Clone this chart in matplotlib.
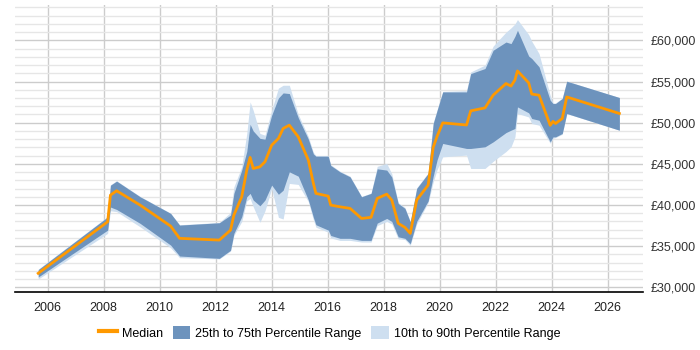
import matplotlib
matplotlib.use("Agg")
import matplotlib.pyplot as plt
from matplotlib.lines import Line2D
from matplotlib.patches import Patch
from matplotlib.ticker import FuncFormatter, MultipleLocator

plt.rcParams["font.family"] = ["Liberation Sans", "DejaVu Sans"]

years = [
    2005.66, 2008.14, 2008.24, 2008.46, 2009.30, 2010.39, 2010.71, 2012.13,
    2012.53, 2012.65, 2012.93, 2013.11, 2013.23, 2013.34, 2013.58, 2013.76,
    2014.00, 2014.24, 2014.41, 2014.63, 2014.95, 2015.31, 2015.49, 2015.58,
    2016.02, 2016.11, 2016.44, 2016.80, 2017.21, 2017.55, 2017.77, 2018.11,
    2018.29, 2018.52, 2018.76, 2018.95, 2019.18, 2019.59, 2019.77, 2019.91,
    2020.11, 2020.96, 2021.11, 2021.62, 2021.91, 2022.37, 2022.55, 2022.69,
    2022.78, 2023.18, 2023.29, 2023.55, 2023.95, 2024.05, 2024.14, 2024.38,
    2024.54, 2026.42,
]
median = [
    31700, 37960, 41200, 41730, 39990, 37440, 35950, 35740,
    36950, 38770, 41000, 44240, 45780, 44440, 44640, 45250,
    47270, 48080, 49300, 49700, 48280, 45450, 42620, 41410,
    41080, 39990, 39780, 39590, 38370, 38500, 40800, 41320,
    40600, 37770, 37280, 36550, 40600, 42420, 47000, 48360,
    49980, 49720, 51440, 51800, 53340, 54760, 54450, 55200,
    56290, 54850, 53480, 53340, 49680, 50160, 49900, 50510,
    53130, 51120,
]
p25 = [
    31250, 36950, 39750, 39460, 37770, 35130, 33800, 33520,
    34500, 36550, 38570, 41000, 41410, 40600, 39900, 40600,
    42420, 41300, 41800, 44030, 43500, 40600, 38500, 37600,
    36950, 36300, 35950, 35950, 35700, 35700, 37800, 38370,
    38000, 36140, 35950, 35300, 38000, 40500, 43500, 45500,
    47480, 46870, 46870, 47070, 47670, 48800, 49090, 49300,
    51920, 51200, 50510, 50300, 47670, 48280, 48280, 48690,
    51120, 49090,
]
p75 = [
    32150, 38550, 42400, 42900, 41000, 38980, 37560, 37840,
    38770, 41410, 44240, 46500, 49800, 49000, 48100, 48000,
    50910, 53000, 53620, 53540, 50600, 48000, 46200, 45930,
    45930, 44800, 44030, 43420, 41000, 41410, 44400, 44240,
    43400, 40190, 39590, 37960, 42010, 43840, 49900, 51500,
    53740, 53740, 55970, 56580, 58800, 59800, 59610, 60500,
    61230, 58100, 57800, 56800, 52730, 52330, 52330, 52940,
    55040, 53060,
]
p10 = [
    31000, 36550, 39300, 39200, 37350, 34800, 33600, 33450,
    34400, 36300, 38000, 40500, 40800, 39800, 37900, 39300,
    42000, 38500, 38300, 42620, 42500, 40400, 38200, 37300,
    36700, 36000, 35700, 35700, 35500, 35500, 37500, 38000,
    37700, 35900, 35800, 35100, 37700, 40300, 42800, 44300,
    45850, 46060, 44440, 44440, 45300, 46500, 47070, 48280,
    51120, 50700, 49900, 49700, 47500, 48100, 48200, 48600,
    51100, 49090,
]
p90 = [
    32200, 38600, 42450, 42950, 41050, 39000, 37600, 37880,
    39100, 42200, 44640, 48690, 52520, 51500, 48700, 48480,
    51520, 54200, 54550, 54550, 51000, 48300, 46400, 46000,
    46000, 44900, 44100, 43500, 41050, 41450, 44700, 45050,
    43800, 40300, 39700, 38000, 42100, 43900, 50000, 51600,
    53800, 53900, 56170, 57000, 59300, 61000, 61530, 62000,
    62530, 60700, 59900, 58400, 53300, 52400, 52400, 53000,
    55050, 53060,
]
x_ticks = [2006, 2008, 2010, 2012, 2014, 2016, 2018, 2020, 2022, 2024, 2026]

ORANGE = "#ff9900"
DARK = "#6d93bd"
LIGHT = "#cedff0"

fig = plt.figure(figsize=(7, 3.5), dpi=100)
ax = fig.add_axes([0.0214, 0.165, 0.8966, 0.8207])

ax.fill_between(years, p10, p90, color=LIGHT, linewidth=0, zorder=2)
ax.fill_between(years, p25, p75, color=DARK, linewidth=0, zorder=3)
ax.plot(years, median, color=ORANGE, linewidth=2, zorder=4)

ax.set_xlim(2004.83, 2027.25)
ax.set_ylim(29400, 64300)
ax.set_xticks(x_ticks)
ax.yaxis.set_major_locator(MultipleLocator(5000))
ax.yaxis.set_minor_locator(MultipleLocator(1000))
ax.yaxis.set_major_formatter(FuncFormatter(lambda v, _: f"£{v:,.0f}"))
ax.yaxis.tick_right()

ax.grid(axis="y", which="major", color="#cccccc", linewidth=1, zorder=0)
ax.grid(axis="y", which="minor", color="#e6e6e6", linewidth=1, zorder=0)
ax.grid(axis="x", which="major", color="#cccccc", linewidth=1, zorder=0)
ax.set_axisbelow(True)

for side in ("left", "right", "top"):
    ax.spines[side].set_visible(False)
ax.spines["bottom"].set_color("black")
ax.spines["bottom"].set_linewidth(1.2)

ax.tick_params(axis="x", which="both", length=0, pad=7, labelsize=9, colors="#222222")
ax.tick_params(axis="y", which="both", length=0, pad=6, labelsize=9, colors="#333333")

handles = [
    Line2D([0], [0], color=ORANGE, linewidth=3),
    Patch(facecolor=DARK, edgecolor="none"),
    Patch(facecolor=LIGHT, edgecolor="none"),
]
labels = ["Median", "25th to 75th Percentile Range", "10th to 90th Percentile Range"]
ax.legend(
    handles, labels,
    loc="center", bbox_to_anchor=(0.471, 0.049), bbox_transform=fig.transFigure,
    ncol=3, frameon=False, fontsize=9, handlelength=1.4, handleheight=1.3,
    columnspacing=0.8, handletextpad=0.4,
)

fig.savefig("out.png", dpi=100)
